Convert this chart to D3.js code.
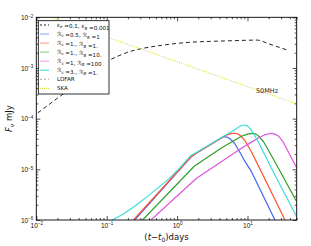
<!DOCTYPE html>
<html>
<head>
<meta charset="utf-8">
<script src="https://cdn.jsdelivr.net/npm/d3@7"></script>
<style>
body { margin: 0; background: #fff; }
svg { display: block; font-family: "DejaVu Sans", sans-serif; }
</style>
</head>
<body>
<svg id="chart"></svg>
<script>
// light curves (t in days, F in mJy)
let tDash = [0.0105, 0.022, 0.05, 0.112, 0.15, 0.2, 0.3, 0.42, 0.6, 0.8, 1.45, 3, 6, 13.8, 20, 37]
let fDash = [1.3e-4, 2.8e-4, 6.4e-4, 1.45e-3, 1.75e-3, 2.05e-3, 2.38e-3, 2.6e-3, 2.8e-3, 2.95e-3, 3.2e-3, 3.35e-3, 3.45e-3, 3.55e-3, 3.0e-3, 2.25e-3]

let tBlue = [0.25, 1.58, 1.87, 4.25, 4.6, 4.85, 5.2, 5.7, 6.5, 7.76, 9.3, 11.4, 24.5]
let fBlue = [1e-6, 1.77e-5, 2.07e-5, 4.14e-5, 4.35e-5, 4.4e-5, 4.3e-5, 3.95e-5, 3.3e-5, 2.2e-5, 1.4e-5, 9e-6, 1e-6]

let tRed = [0.24, 1.58, 1.87, 4.25, 5, 5.8, 6.6, 7.3, 8, 9.2, 11.4, 15, 34.1]
let fRed = [1e-6, 1.77e-5, 2.07e-5, 4.14e-5, 4.7e-5, 5.05e-5, 5.15e-5, 5e-5, 4.6e-5, 3.7e-5, 2.2e-5, 1.02e-5, 1e-6]

let tGreen = [0.324, 1.75, 4.2, 8.2, 9.5, 10.8, 12, 13.2, 14.5, 16.9, 24.5, 50]
let fGreen = [1e-6, 1.15e-5, 2.6e-5, 4.5e-5, 4.85e-5, 5.05e-5, 5.13e-5, 4.95e-5, 4.5e-5, 3.5e-5, 1.41e-5, 2.3e-6]

let tMagenta = [0.425, 1.87, 8.2, 12, 15, 18, 21, 24, 27.7, 32, 38.1, 50]
let fMagenta = [1e-6, 6.6e-6, 2.6e-5, 3.6e-5, 4.3e-5, 4.85e-5, 5.1e-5, 5e-5, 4.5e-5, 3.5e-5, 2.2e-5, 1.06e-5]

let tCyan = [0.12, 0.17, 0.245, 0.4, 0.736, 1.1, 1.58, 1.87, 4.7, 6.5, 7.6, 8.5, 9.2, 10, 11, 12.5, 14.2, 24.5, 50]
let fCyan = [1e-6, 1.3e-6, 1.83e-6, 3.1e-6, 6.2e-6, 1.08e-5, 1.9e-5, 2.15e-5, 4.6e-5, 6e-5, 6.9e-5, 7.4e-5, 7.5e-5, 7.2e-5, 6.3e-5, 4.8e-5, 3.5e-5, 7.7e-6, 1.16e-6]

let tSka = [0.01, 0.1, 1, 10, 50]
let fSka = [1.26e-2, 4.1e-3, 1.33e-3, 4.3e-4, 1.95e-4]

let legendLabels = ['ε_e =0.1, ε_B =0.001', 'ℛ_s =0.5, ℛ_B =1', 'ℛ_s =1., ℛ_B =1.', 'ℛ_s =1., ℛ_B =10.',
    'ℛ_s =1, ℛ_B =100', 'ℛ_s =3., ℛ_B =1.', 'LOFAR', 'SKA']

let xMajor = [0.01, 0.1, 1, 10]
let yMajor = [1e-6, 1e-5, 1e-4, 1e-3, 1e-2]

let width = 311
let height = 246
let margin = {top: 17.3, right: 14.3, bottom: 26, left: 36.3}

let svg = d3.select('#chart').attr('width', width).attr('height', height)

let xScale = d3.scaleLog().domain([0.01, 50]).range([margin.left, width - margin.right])
let yScale = d3.scaleLog().domain([1e-6, 1e-2]).range([height - margin.bottom, margin.top])

let zip = (ts, fs) => ts.map((t, i) => [t, fs[i]])

let series = [
    {data: zip(tDash, fDash), color: '#222', dash: '4,3', width: 1, smooth: true},
    {data: zip(tSka, fSka), color: '#dede3a', dash: '1,1.4', width: 1.2, smooth: true},
    {data: zip(tBlue, fBlue), color: '#3f63f0', width: 1.2},
    {data: zip(tRed, fRed), color: '#ff5533', width: 1.2},
    {data: zip(tGreen, fGreen), color: '#2f9f2f', width: 1.2},
    {data: zip(tMagenta, fMagenta), color: '#dd55dd', width: 1.2},
    {data: zip(tCyan, fCyan), color: '#3fdcdc', width: 1.2}
]

let legendStyles = [
    {color: '#222', dash: '2,2', opacity: 1},
    {color: '#3f63f0', opacity: 0.5},
    {color: '#ff5533', opacity: 0.5},
    {color: '#2f9f2f', opacity: 0.5},
    {color: '#dd55dd', opacity: 0.5},
    {color: '#3fdcdc', opacity: 0.9},
    {color: '#bbb', dash: '2,2', opacity: 1},
    {color: '#dede3a', dash: '1,1', opacity: 1}
]

let plotW = width - margin.left - margin.right
let plotH = height - margin.top - margin.bottom

svg.append('clipPath').attr('id', 'clip')
    .append('rect')
    .attr('x', margin.left).attr('y', margin.top)
    .attr('width', plotW).attr('height', plotH)

let lineSmooth = d3.line()
    .x((d) => xScale(d[0]))
    .y((d) => yScale(d[1]))
    .curve(d3.curveMonotoneX)
let lineStraight = d3.line()
    .x((d) => xScale(d[0]))
    .y((d) => yScale(d[1]))

let drawLines = () => {
    let g = svg.append('g').attr('clip-path', 'url(#clip)')
    series.forEach((s) => {
        g.append('path')
            .attr('d', (s.smooth ? lineSmooth : lineStraight)(s.data))
            .attr('fill', 'none')
            .attr('stroke', s.color)
            .attr('stroke-width', s.width)
            .attr('stroke-linejoin', 'round')
            .attr('stroke-dasharray', s.dash || null)
    })
    svg.append('text')
        .attr('x', xScale(13.2))
        .attr('y', yScale(3.25e-4))
        .attr('font-size', 6.5)
        .attr('fill', '#222')
        .text('50MHz')
}

let minors = (lo, hi, max) => {
    let out = []
    for (let k = lo; k <= hi; k++) {
        for (let m = 2; m <= 9; m++) {
            let v = m * Math.pow(10, k)
            if (v <= max) out.push(v)
        }
    }
    return out
}

let powLabel = (sel) => {
    sel.each(function (d) {
        let e = Math.round(Math.log10(d))
        let t = d3.select(this)
        t.text('10')
        t.append('tspan')
            .attr('dy', '-0.5em')
            .attr('font-size', '0.7em')
            .text(e < 0 ? '−' + (-e) : e)
    })
}

let drawAxes = () => {
    let bottom = height - margin.bottom
    let right = width - margin.right
    let xMinor = minors(-2, 1, 50)
    let yMinor = minors(-6, -3, 1e-2)

    let defs = [
        [d3.axisBottom, xScale, `translate(0,${bottom})`, xMajor, xMinor, true],
        [d3.axisTop, xScale, `translate(0,${margin.top})`, xMajor, xMinor, false],
        [d3.axisLeft, yScale, `translate(${margin.left},0)`, yMajor, yMinor, true],
        [d3.axisRight, yScale, `translate(${right},0)`, yMajor, yMinor, false]
    ]
    defs.forEach(([ax, sc, tr, major, minor, labels]) => {
        let gMin = svg.append('g').attr('transform', tr)
            .call(ax(sc).tickValues(minor).tickSize(-2).tickFormat(''))
        gMin.select('.domain').remove()
        let gMaj = svg.append('g').attr('transform', tr)
            .call(ax(sc).tickValues(major).tickSize(-4).tickPadding(3).tickFormat(''))
        gMaj.select('.domain').remove()
        svg.selectAll('.tick line').attr('stroke', '#000').attr('stroke-width', 0.7)
        if (labels) {
            gMaj.selectAll('.tick text')
                .attr('font-size', 6.5)
                .attr('fill', '#111')
                .call(powLabel)
        } else {
            gMaj.selectAll('.tick text').remove()
        }
    })

    svg.append('rect')
        .attr('x', margin.left).attr('y', margin.top)
        .attr('width', plotW).attr('height', plotH)
        .attr('fill', 'none')
        .attr('stroke', '#000')
        .attr('stroke-width', 0.9)

    // axis titles
    let xl = svg.append('text')
        .attr('x', margin.left + plotW / 2)
        .attr('y', 240)
        .attr('text-anchor', 'middle')
        .attr('font-size', 8.5)
        .attr('fill', '#111')
    xl.append('tspan').text('(')
    xl.append('tspan').attr('font-style', 'italic').text('t')
    xl.append('tspan').text('−')
    xl.append('tspan').attr('font-style', 'italic').text('t')
    xl.append('tspan').attr('font-size', 6).attr('dy', 2).text('0')
    xl.append('tspan').attr('dy', -2).text(')days')

    let yl = svg.append('text')
        .attr('transform', `translate(12,${margin.top + plotH / 2}) rotate(-90)`)
        .attr('text-anchor', 'middle')
        .attr('font-size', 8.5)
        .attr('fill', '#111')
    yl.append('tspan').attr('font-style', 'italic').text('F')
    yl.append('tspan').attr('font-style', 'italic').attr('font-size', 6).attr('dy', 2).text('ν')
    yl.append('tspan').attr('dy', -2).text(' mJy')
}

let drawLegend = () => {
    let g = svg.append('g')
    g.append('rect')
        .attr('x', 38.3).attr('y', 20.7)
        .attr('width', 70.7).attr('height', 73.3)
        .attr('fill', '#fff')
        .attr('stroke', '#000')
        .attr('stroke-width', 0.8)
    legendLabels.forEach((lab, i) => {
        let y = 25 + i * 9.05
        let st = legendStyles[i]
        g.append('line')
            .attr('x1', 40).attr('x2', 49)
            .attr('y1', y).attr('y2', y)
            .attr('stroke', st.color)
            .attr('stroke-opacity', st.opacity)
            .attr('stroke-width', 1.2)
            .attr('stroke-dasharray', st.dash || null)
        let txt = g.append('text')
            .attr('x', 57).attr('y', y + 2)
            .attr('font-size', 5.6)
            .attr('fill', '#111')
        let parts = lab.split(/(_\w)/)
        parts.forEach((p) => {
            if (p.startsWith('_')) {
                txt.append('tspan').attr('font-size', 4).attr('dy', 1.3).attr('font-style', 'italic').text(p.slice(1))
                txt.append('tspan').attr('dy', -1.3).text('')
            } else if (p.length) {
                p.split(/([εℛ])/).forEach((q) => {
                    if (!q.length) return
                    let sp = txt.append('tspan').text(q)
                    if (q === 'ε' || q === 'ℛ') sp.attr('font-style', 'italic')
                })
            }
        })
    })
}

drawLines()
drawAxes()
drawLegend()
</script>
</body>
</html>
